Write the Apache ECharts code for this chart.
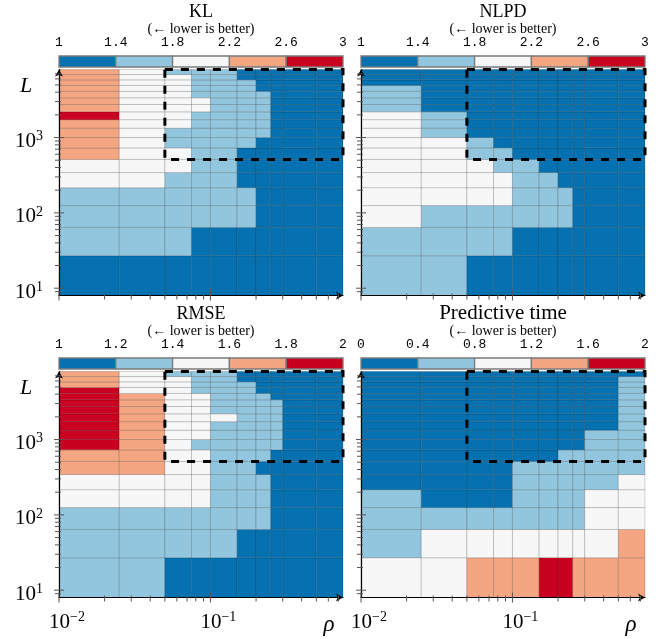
<!DOCTYPE html>
<html><head><meta charset="utf-8">
<script src="https://cdn.jsdelivr.net/npm/echarts@6/dist/echarts.min.js"></script>
<style>html,body{margin:0;padding:0;background:#fff}#c{width:663px;height:639px}</style>
</head><body><div id="c"></div>
<script>
// ---------- data ----------
const rhoEdges = [0.01, 0.025, 0.05, 0.075, 0.1, 0.15, 0.2, 0.25, 0.3, 0.5, 0.75];
const LEdges = [8, 27, 64, 125, 216, 343, 512, 729, 1000, 1331, 1728, 2197, 2744, 3375, 4096, 4913, 5832, 6859, 8000];

// rows listed from bottom (L = 8-27) to top (L = 6859-8000); columns follow rhoEdges
const klValues = [
  [1.2,1.2,1.2,1.2,1.2,1.2,1.2,1.2,1.2,1.2],
  [1.6,1.6,1.6,1.2,1.2,1.2,1.2,1.2,1.2,1.2],
  [1.6,1.6,1.6,1.6,1.6,1.6,1.2,1.2,1.2,1.2],
  [1.6,1.6,1.6,1.6,1.6,1.6,1.2,1.2,1.2,1.2],
  [2.0,2.0,1.6,1.6,1.6,1.2,1.2,1.2,1.2,1.2],
  [2.0,2.0,2.0,1.6,1.6,1.2,1.2,1.2,1.2,1.2],
  [2.4,2.0,2.0,1.6,1.6,1.2,1.2,1.2,1.2,1.2],
  [2.4,2.0,1.6,1.6,1.6,1.6,1.2,1.2,1.2,1.2],
  [2.4,2.0,1.6,1.6,1.6,1.6,1.6,1.2,1.2,1.2],
  [2.4,2.0,2.0,1.6,1.6,1.6,1.6,1.2,1.2,1.2],
  [2.8,2.0,2.0,1.6,1.6,1.6,1.6,1.2,1.2,1.2],
  [2.4,2.0,2.0,2.0,1.6,1.6,1.6,1.2,1.2,1.2],
  [2.4,2.0,2.0,2.0,1.6,1.6,1.6,1.2,1.2,1.2],
  [2.4,2.0,2.0,1.6,1.6,1.6,1.6,1.2,1.2,1.2],
  [2.4,2.0,2.0,1.6,1.6,1.6,1.2,1.2,1.2,1.2],
  [2.4,2.0,2.0,1.6,1.6,1.6,1.2,1.2,1.2,1.2],
  [2.4,2.0,2.0,1.6,1.6,1.2,1.2,1.2,1.2,1.2],
  [2.4,2.0,1.6,1.6,1.6,1.2,1.2,1.2,1.2,1.2]
];
const nlpdValues = [
  [1.6,1.6,1.2,1.2,1.2,1.2,1.2,1.2,1.2,1.2],
  [1.6,1.6,1.6,1.6,1.2,1.2,1.2,1.2,1.2,1.2],
  [2.0,1.6,1.6,1.6,1.6,1.6,1.6,1.2,1.2,1.2],
  [2.0,2.0,2.0,2.0,1.6,1.6,1.6,1.2,1.2,1.2],
  [2.0,2.0,2.0,2.0,1.6,1.6,1.2,1.2,1.2,1.2],
  [2.0,2.0,2.0,1.6,1.6,1.2,1.2,1.2,1.2,1.2],
  [2.0,2.0,1.6,1.6,1.2,1.2,1.2,1.2,1.2,1.2],
  [2.0,2.0,1.6,1.2,1.2,1.2,1.2,1.2,1.2,1.2],
  [2.0,1.6,1.2,1.2,1.2,1.2,1.2,1.2,1.2,1.2],
  [2.0,1.6,1.2,1.2,1.2,1.2,1.2,1.2,1.2,1.2],
  [2.0,1.6,1.2,1.2,1.2,1.2,1.2,1.2,1.2,1.2],
  [1.6,1.2,1.2,1.2,1.2,1.2,1.2,1.2,1.2,1.2],
  [1.6,1.2,1.2,1.2,1.2,1.2,1.2,1.2,1.2,1.2],
  [1.6,1.2,1.2,1.2,1.2,1.2,1.2,1.2,1.2,1.2],
  [1.6,1.2,1.2,1.2,1.2,1.2,1.2,1.2,1.2,1.2],
  [1.2,1.2,1.2,1.2,1.2,1.2,1.2,1.2,1.2,1.2],
  [1.2,1.2,1.2,1.2,1.2,1.2,1.2,1.2,1.2,1.2],
  [1.2,1.2,1.2,1.2,1.2,1.2,1.2,1.2,1.2,1.2]
];
const rmseValues = [
  [1.3,1.3,1.1,1.1,1.1,1.1,1.1,1.1,1.1,1.1],
  [1.3,1.3,1.3,1.3,1.3,1.1,1.1,1.1,1.1,1.1],
  [1.3,1.3,1.3,1.3,1.3,1.3,1.3,1.1,1.1,1.1],
  [1.5,1.5,1.5,1.5,1.3,1.3,1.3,1.1,1.1,1.1],
  [1.5,1.5,1.5,1.5,1.3,1.3,1.3,1.1,1.1,1.1],
  [1.7,1.7,1.5,1.5,1.3,1.3,1.1,1.1,1.1,1.1],
  [1.7,1.7,1.5,1.5,1.3,1.3,1.3,1.1,1.1,1.1],
  [1.9,1.7,1.5,1.3,1.3,1.3,1.3,1.3,1.1,1.1],
  [1.9,1.7,1.5,1.5,1.3,1.3,1.3,1.3,1.1,1.1],
  [1.9,1.7,1.5,1.5,1.3,1.3,1.3,1.3,1.1,1.1],
  [1.9,1.7,1.5,1.5,1.5,1.3,1.3,1.3,1.1,1.1],
  [1.9,1.7,1.5,1.5,1.3,1.3,1.3,1.3,1.1,1.1],
  [1.9,1.7,1.5,1.5,1.3,1.3,1.3,1.3,1.1,1.1],
  [1.9,1.7,1.5,1.5,1.3,1.3,1.3,1.1,1.1,1.1],
  [1.9,1.5,1.5,1.3,1.3,1.3,1.1,1.1,1.1,1.1],
  [1.7,1.5,1.5,1.3,1.3,1.3,1.1,1.1,1.1,1.1],
  [1.7,1.5,1.5,1.3,1.3,1.1,1.1,1.1,1.1,1.1],
  [1.7,1.5,1.3,1.3,1.3,1.1,1.1,1.1,1.1,1.1]
];
const timeValues = [
  [1.0,1.0,1.4,1.4,1.4,1.8,1.8,1.4,1.4,1.4],
  [0.6,1.0,1.0,1.0,1.0,1.0,1.0,1.0,1.0,1.4],
  [0.6,0.6,0.6,0.6,0.6,0.6,0.6,0.6,1.0,1.0],
  [0.6,0.2,0.2,0.2,0.6,0.6,0.6,0.6,1.0,1.0],
  [0.2,0.2,0.2,0.2,0.6,0.6,0.6,0.6,0.6,1.0],
  [0.2,0.2,0.2,0.2,0.6,0.6,0.6,0.6,0.6,0.6],
  [0.2,0.2,0.2,0.2,0.2,0.2,0.6,0.6,0.6,0.6],
  [0.2,0.2,0.2,0.2,0.2,0.2,0.2,0.2,0.6,0.6],
  [0.2,0.2,0.2,0.2,0.2,0.2,0.2,0.2,0.6,0.6],
  [0.2,0.2,0.2,0.2,0.2,0.2,0.2,0.2,0.2,0.6],
  [0.2,0.2,0.2,0.2,0.2,0.2,0.2,0.2,0.2,0.6],
  [0.2,0.2,0.2,0.2,0.2,0.2,0.2,0.2,0.2,0.6],
  [0.2,0.2,0.2,0.2,0.2,0.2,0.2,0.2,0.2,0.6],
  [0.2,0.2,0.2,0.2,0.2,0.2,0.2,0.2,0.2,0.6],
  [0.2,0.2,0.2,0.2,0.2,0.2,0.2,0.2,0.2,0.6],
  [0.2,0.2,0.2,0.2,0.2,0.2,0.2,0.2,0.2,0.6],
  [0.2,0.2,0.2,0.2,0.2,0.2,0.2,0.2,0.2,0.6],
  [0.2,0.2,0.2,0.2,0.2,0.2,0.2,0.2,0.2,0.2]
];

const klTicks = [1, 1.4, 1.8, 2.2, 2.6, 3];
const nlpdTicks = [1, 1.4, 1.8, 2.2, 2.6, 3];
const rmseTicks = [1, 1.2, 1.4, 1.6, 1.8, 2];
const timeTicks = [0, 0.4, 0.8, 1.2, 1.6, 2];

const titles = ['KL', 'NLPD', 'RMSE', 'Predictive time'];
const subtitle = '(\u2190 lower is better)';
const palette = ['#0571b0', '#92c5de', '#f7f7f7', '#f4a582', '#ca0020'];

const xMajorTicks = [0.01, 0.1];
const xMinorTicks = [0.02,0.03,0.04,0.05,0.06,0.07,0.08,0.09,0.2,0.3,0.4,0.5,0.6,0.7];
const yMajorTicks = [10, 100, 1000];
const yMinorTicks = [9,20,30,40,50,60,70,80,90,200,300,400,500,600,700,800,900,2000,3000,4000,5000,6000,7000];
const highlightBox = [0.05, 0.75, 512, 8000];

// ---------- layout / style ----------
const SERIF = 'Liberation Serif';
const panels = [
  {values: klValues,   ticks: klTicks,   left: 59,  top: 69.5,  showX: false, showY: true},
  {values: nlpdValues, ticks: nlpdTicks, left: 361, top: 69.5,  showX: false, showY: false},
  {values: rmseValues, ticks: rmseTicks, left: 59,  top: 371.5, showX: true,  showY: true},
  {values: timeValues, ticks: timeTicks, left: 361, top: 371.5, showX: true,  showY: false}
];
const PW = 284, PH = 226;

const richSup = {
  b: {fontFamily: SERIF, fontSize: 21, lineHeight: 24, color: '#000'},
  s: {fontFamily: SERIF, fontSize: 14, lineHeight: 14, verticalAlign: 'top', color: '#000'}
};
function supLabel(v) {
  const e = Math.log10(v), r = Math.round(e);
  if (Math.abs(e - r) > 1e-6) return '';
  return '{b|10}{s|' + (r < 0 ? '\u2212' : '') + Math.abs(r) + '}';
}

const grid = [], xAxis = [], yAxis = [], series = [], graphic = [];

panels.forEach((p, i) => {
  const cbIdx = 4 + i;
  grid[i] = {left: p.left, top: p.top, width: PW, height: PH};
  grid[cbIdx] = {left: p.left, top: p.top - 13.5, width: PW, height: 11};

  xAxis[i] = {
    type: 'log', logBase: 10, gridIndex: i, min: rhoEdges[0], max: rhoEdges[rhoEdges.length - 1], z: 10,
    axisLine: {show: true, onZero: false, symbol: ['none', 'arrow'], symbolSize: [6, 7], lineStyle: {color: '#000', width: 1.2}},
    axisTick: {show: false}, axisLabel: {show: false}, splitLine: {show: false}
  };
  yAxis[i] = {
    type: 'log', logBase: 10, gridIndex: i, min: LEdges[0], max: LEdges[LEdges.length - 1], z: 10,
    axisLine: {show: true, onZero: false, symbol: ['none', 'arrow'], symbolSize: [6, 7], lineStyle: {color: '#000', width: 1.2}},
    axisTick: {show: false}, splitLine: {show: false},
    axisLabel: {show: p.showY, margin: 16, formatter: supLabel, rich: richSup, padding: [8, 0, 0, 0]}
  };
  xAxis[cbIdx] = {
    type: 'value', gridIndex: cbIdx, min: 0, max: p.ticks.length - 1, interval: 1, position: 'top',
    axisLine: {show: false}, axisTick: {show: false}, splitLine: {show: false},
    axisLabel: {margin: 7, fontFamily: 'Liberation Mono', fontSize: 13, color: '#000',
      formatter: v => String(p.ticks[Math.round(v)])}
  };
  yAxis[cbIdx] = {type: 'value', gridIndex: cbIdx, min: 0, max: 1, show: false};

  // heat cells
  const cells = [];
  p.values.forEach((row, r) => row.forEach((v, c) => {
    cells.push([rhoEdges[c], rhoEdges[c + 1], LEdges[r], LEdges[r + 1], v]);
  }));
  const lo = p.ticks[0], step = p.ticks[1] - p.ticks[0];
  series.push({
    type: 'custom', xAxisIndex: i, yAxisIndex: i, silent: true, z: 1,
    encode: {x: [0, 1], y: [2, 3]}, data: cells,
    renderItem(params, api) {
      const a = api.coord([api.value(0), api.value(3)]);
      const b = api.coord([api.value(1), api.value(2)]);
      const k = Math.max(0, Math.min(4, Math.floor((api.value(4) - lo) / step + 1e-9)));
      return {type: 'rect', shape: {x: a[0], y: a[1], width: b[0] - a[0], height: b[1] - a[1]},
        style: {fill: palette[k], stroke: 'rgba(0,0,0,0.17)', lineWidth: 1}};
    }
  });

  // ticks
  const tks = [];
  xMinorTicks.forEach(v => tks.push([v, LEdges[0], 0]));
  xMajorTicks.forEach(v => tks.push([v, LEdges[0], 1]));
  yMinorTicks.forEach(v => tks.push([rhoEdges[0], v, 2]));
  yMajorTicks.forEach(v => tks.push([rhoEdges[0], v, 3]));
  series.push({
    type: 'custom', xAxisIndex: i, yAxisIndex: i, silent: true, z: 12, clip: false,
    encode: {x: 0, y: 1}, data: tks,
    renderItem(params, api) {
      const q = api.coord([api.value(0), api.value(1)]);
      const k = api.value(2);
      let s;
      if (k === 0) s = {x1: q[0], y1: q[1] - 2, x2: q[0], y2: q[1] + 4};
      else if (k === 1) s = {x1: q[0], y1: q[1] - 5, x2: q[0], y2: q[1] + 5};
      else if (k === 2) s = {x1: q[0] - 4, y1: q[1], x2: q[0] + 2, y2: q[1]};
      else s = {x1: q[0] - 5, y1: q[1], x2: q[0] + 5, y2: q[1]};
      return {type: 'line', shape: s, style: {stroke: '#555', lineWidth: 1}};
    }
  });

  // dashed highlight rectangle
  series.push({
    type: 'custom', xAxisIndex: i, yAxisIndex: i, silent: true, z: 20, clip: false,
    encode: {x: [0, 1], y: [2, 3]}, data: [highlightBox],
    renderItem(params, api) {
      const a = api.coord([api.value(0), api.value(3)]);
      const b = api.coord([api.value(1), api.value(2)]);
      return {type: 'rect', shape: {x: a[0], y: a[1], width: b[0] - a[0], height: b[1] - a[1]},
        style: {fill: 'none', stroke: '#000', lineWidth: 3, lineDash: [8, 8]}};
    }
  });

  // x labels for bottom panels
  if (p.showX) {
    series.push({
      type: 'custom', xAxisIndex: i, yAxisIndex: i, silent: true, z: 15, clip: false,
      encode: {x: 0, y: 1}, data: xMajorTicks.map(v => [v, LEdges[0]]),
      renderItem(params, api) {
        const q = api.coord([api.value(0), api.value(1)]);
        return {type: 'text', x: q[0] - 10, y: q[1] + 13,
          style: {text: supLabel(api.value(0)), rich: richSup, align: 'left', verticalAlign: 'top'}};
      }
    });
  }

  // colorbar
  series.push({
    type: 'custom', xAxisIndex: cbIdx, yAxisIndex: cbIdx, silent: true, z: 5,
    encode: {x: [0, 1]}, data: p.ticks.slice(0, -1).map((t, k) => [k, k + 1, k]),
    renderItem(params, api) {
      const a = api.coord([api.value(0), 1]);
      const b = api.coord([api.value(1), 0]);
      return {type: 'rect', shape: {x: a[0], y: a[1], width: b[0] - a[0], height: b[1] - a[1]},
        style: {fill: palette[api.value(2)], stroke: '#7a7a7a', lineWidth: 1.3}};
    }
  });

  // titles
  const cx = p.left + PW / 2;
  const tTop = i < 2 ? 0 : 302;
  graphic.push({type: 'text', x: cx, y: tTop + (i === 3 ? 11 : 12), silent: true,
    style: {text: titles[i], fontFamily: SERIF, fontSize: i === 3 ? 21 : 18, fill: '#000', align: 'center', verticalAlign: 'middle'}});
  graphic.push({type: 'text', x: cx, y: tTop + 29, silent: true,
    style: {text: subtitle, fontFamily: SERIF, fontSize: 14, fill: '#000', align: 'center', verticalAlign: 'middle'}});
  if (p.showY) {
    graphic.push({type: 'text', x: 26, y: p.top + 17, silent: true,
      style: {text: 'L', fontFamily: SERIF, fontStyle: 'italic', fontSize: 22, fill: '#000', align: 'center', verticalAlign: 'middle'}});
  }
  if (p.showX) {
    graphic.push({type: 'text', x: p.left + PW - 14, y: p.top + PH + 27, silent: true,
      style: {text: '\u03c1', fontFamily: SERIF, fontStyle: 'italic', fontSize: 23, fill: '#000', align: 'center', verticalAlign: 'middle'}});
  }
});

const chart = echarts.init(document.getElementById('c'), null, {renderer: 'canvas'});
chart.setOption({animation: false, backgroundColor: '#fff', grid, xAxis, yAxis, series, graphic});
</script></body></html>
